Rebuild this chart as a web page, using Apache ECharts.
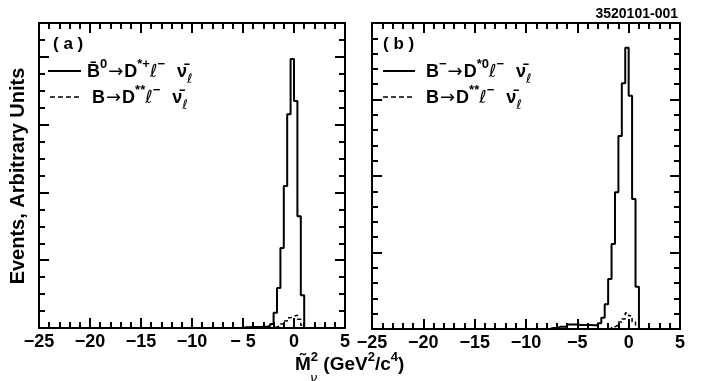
<!DOCTYPE html>
<html>
<head>
<meta charset="utf-8">
<script src="https://cdn.jsdelivr.net/npm/echarts@6/dist/echarts.min.js"></script>
<style>
  html, body { margin: 0; padding: 0; background: #fff; }
  #chart { width: 703px; height: 381px; }
</style>
</head>
<body>
<div id="chart"></div>
<script>
// histogram bins: width 1/3 GeV^2/c^4, first bin starts at -8
const binStart = -8;
const binWidth = 1 / 3;

// panel (a): B0bar -> D*+ l nu  (solid) and B -> D** l nu (dashed)
const aSignal = [0, 0, 0, 0, 0, 0, 0, 0, 0, 0.2, 0.2, 0.3, 0.3, 0.3, 0.4, 0.4,
                 0.6, 1.2, 4.5, 11.8, 23.6, 41.9, 63.1, 79.4, 67.0, 33.0, 9.7, 0];
const aDstst  = [0, 0, 0, 0, 0, 0, 0, 0, 0, 0, 0, 0, 0, 0, 0, 0,
                 0, 0, 0.3, 0.6, 1.2, 2.1, 3.0, 3.5, 3.8, 2.6, 0.8, 0];

// panel (b): B- -> D*0 l nu (solid) and B -> D** l nu (dashed)
const bSignal = [0, 0.3, 0.3, 0.7, 0.7, 0.7, 1.5, 1.5, 1.5, 1.3, 1.3, 1.3, 1.3, 1.2, 1.2, 1.9,
                 3.7, 8.1, 16.3, 27.8, 44.7, 63.1, 80.3, 91.9, 76.2, 42.5, 13.8, 0];
const bDstst  = [0, 0, 0, 0, 0, 0, 0, 0, 0, 0, 0, 0, 0, 0, 0, 0,
                 0, 0, 0, 0.7, 1.3, 2.3, 3.3, 5.2, 4.3, 2.3, 0, 0];

// axis ticks
const xTicks = [-25, -20, -15, -10, -5, 0, 5];
const xMinor = 1;
const aYMax = 90, aYMajor = 20, aYMinor = 5;
const bYMax = 100, bYMajor = 25, bYMinor = 5;

const FONT = 'Liberation Sans, Arial, sans-serif';
const BLACK = '#000';

function steps(vals) {
  const pts = [[binStart, 0]];
  vals.forEach((v, i) => pts.push([binStart + i * binWidth, v]));
  pts.push([binStart + vals.length * binWidth, 0]);
  return pts;
}

// one axis = frame line + ticks of one length; minor ticks get their own axis
function axis(grid, pos, min, max, interval, len, frame, fmt) {
  return {
    type: 'value', gridIndex: grid, position: pos, min: min, max: max, interval: interval,
    axisLine: { show: frame, onZero: false, lineStyle: { color: BLACK, width: 2 } },
    axisTick: { show: true, inside: true, length: len, lineStyle: { color: BLACK, width: 2 } },
    axisLabel: fmt ? {
      show: true, formatter: fmt, margin: 5,
      fontSize: 18, fontWeight: 'bold', color: BLACK, fontFamily: FONT
    } : { show: false },
    splitLine: { show: false }
  };
}

const fmtA = v => v < 0 ? (v === -5 ? '\u2212 5' : '\u2212' + (-v)) : String(v);
const fmtB = v => v < 0 ? '\u2212' + (-v) : String(v);

const x0 = xTicks[0], x1 = xTicks[xTicks.length - 1], xMajor = xTicks[1] - xTicks[0];
const xAxes = [
  axis(0, 'bottom', x0, x1, xMajor, 10, true, fmtA),   // 0: panel a data axis
  axis(0, 'bottom', x0, x1, xMinor, 6, false),
  axis(0, 'top', x0, x1, xMajor, 10, true),
  axis(0, 'top', x0, x1, xMinor, 6, false),
  axis(1, 'bottom', x0, x1, xMajor, 10, true, fmtB),   // 4: panel b data axis
  axis(1, 'bottom', x0, x1, xMinor, 6, false),
  axis(1, 'top', x0, x1, xMajor, 10, true),
  axis(1, 'top', x0, x1, xMinor, 6, false)
];
const yAxes = [
  axis(0, 'left', 0, aYMax, aYMajor, 10, true),        // 0: panel a data axis
  axis(0, 'left', 0, aYMax, aYMinor, 6, false),
  axis(0, 'right', 0, aYMax, aYMajor, 10, true),
  axis(0, 'right', 0, aYMax, aYMinor, 6, false),
  axis(1, 'left', 0, bYMax, bYMajor, 10, true),        // 4: panel b data axis
  axis(1, 'left', 0, bYMax, bYMinor, 6, false),
  axis(1, 'right', 0, bYMax, bYMajor, 10, true),
  axis(1, 'right', 0, bYMax, bYMinor, 6, false)
];

const rich = {
  t: { fontSize: 18, fontWeight: 'bold', fontFamily: FONT, color: BLACK, lineHeight: 28, verticalAlign: 'middle' },
  a: { fontSize: 18, fontFamily: 'DejaVu Sans', color: BLACK, lineHeight: 28, verticalAlign: 'middle', padding: [0, 1, 0, 1] },
  s: { fontSize: 13, fontWeight: 'bold', fontFamily: FONT, color: BLACK, lineHeight: 13, verticalAlign: 'top' },
  l: { fontSize: 18, fontStyle: 'italic', fontFamily: 'DejaVu Sans', color: BLACK, lineHeight: 28, verticalAlign: 'middle' },
  sp: { fontSize: 18, lineHeight: 28, verticalAlign: 'middle', width: 12 },
  u: { fontSize: 13, fontStyle: 'italic', fontFamily: 'DejaVu Sans', color: BLACK, lineHeight: 12, verticalAlign: 'bottom' },
  T: { fontSize: 19, fontWeight: 'bold', fontFamily: FONT, color: BLACK, lineHeight: 28, verticalAlign: 'middle' },
  S: { fontSize: 13, fontWeight: 'bold', fontFamily: FONT, color: BLACK, lineHeight: 13, verticalAlign: 'top' }
};

function legendText(x, y, text) {
  return { type: 'text', x: x, y: y, style: { text: text, rich: rich, textVerticalAlign: 'middle' } };
}
function legendLine(xa, xb, y, dashed) {
  return {
    type: 'line', shape: { x1: xa, y1: y, x2: xb, y2: y },
    style: { stroke: BLACK, lineWidth: dashed ? 1.5 : 2, lineDash: dashed ? [5, 3] : null }
  };
}
const lbl = (x, y, text, size, align, rotation) => ({
  type: 'text', x: x, y: y, rotation: rotation || 0,
  style: { text: text, fontSize: size, fontWeight: 'bold', fontFamily: FONT, fill: BLACK,
           textAlign: align || 'left', textVerticalAlign: 'middle' }
});

const tailText = '{l|\u2113}{s|\u2212}{sp|}{t|\u03bd\u0304}{u|\u2113}';

const chart = echarts.init(document.getElementById('chart'), null, { renderer: 'canvas' });
chart.setOption({
  animation: false,
  backgroundColor: '#fff',
  grid: [
    { left: 39, top: 23, width: 306, height: 305, outerBoundsMode: 'none' },
    { left: 372, top: 23, width: 308, height: 306, outerBoundsMode: 'none' }
  ],
  xAxis: xAxes,
  yAxis: yAxes,
  series: [
    { type: 'line', xAxisIndex: 0, yAxisIndex: 0, step: 'end', symbol: 'none', data: steps(aSignal),
      lineStyle: { color: BLACK, width: 2 } },
    { type: 'line', xAxisIndex: 0, yAxisIndex: 0, step: 'end', symbol: 'none', data: steps(aDstst),
      lineStyle: { color: BLACK, width: 1.5, type: [4, 3] } },
    { type: 'line', xAxisIndex: 4, yAxisIndex: 4, step: 'end', symbol: 'none', data: steps(bSignal),
      lineStyle: { color: BLACK, width: 2 } },
    { type: 'line', xAxisIndex: 4, yAxisIndex: 4, step: 'end', symbol: 'none', data: steps(bDstst),
      lineStyle: { color: BLACK, width: 1.5, type: [4, 3] } }
  ],
  graphic: [
    lbl(678, 14, '3520101-001', 14, 'right'),
    lbl(18, 176, 'Events, Arbitrary Units', 20, 'center', Math.PI / 2),
    lbl(53, 44, '( a )', 17),
    lbl(383, 44, '( b )', 17),
    legendLine(48, 81, 71, false),
    legendLine(50, 81, 97, true),
    legendLine(383, 415, 71, false),
    legendLine(383, 415, 97, true),
    legendText(87, 72, '{t|B\u0304}{s|0}{a|\u2192}{t|D}{s|*+}' + tailText),
    legendText(92, 98, '{t|B}{a|\u2192}{t|D}{s|**}' + tailText),
    legendText(426, 72, '{t|B}{s|\u2212}{a|\u2192}{t|D}{s|*0}' + tailText),
    legendText(426, 98, '{t|B}{a|\u2192}{t|D}{s|**}' + tailText),
    legendText(295, 365, '{T|M\u0303}{S|2}{T| (GeV}{S|2}{T|/c}{S|4}{T|)}'),
    { type: 'text', x: 310, y: 379,
      style: { text: '\u03bd', fontSize: 13, fontStyle: 'italic', fontFamily: 'DejaVu Sans', fill: BLACK,
               textVerticalAlign: 'middle' } }
  ]
});
</script>
</body>
</html>
